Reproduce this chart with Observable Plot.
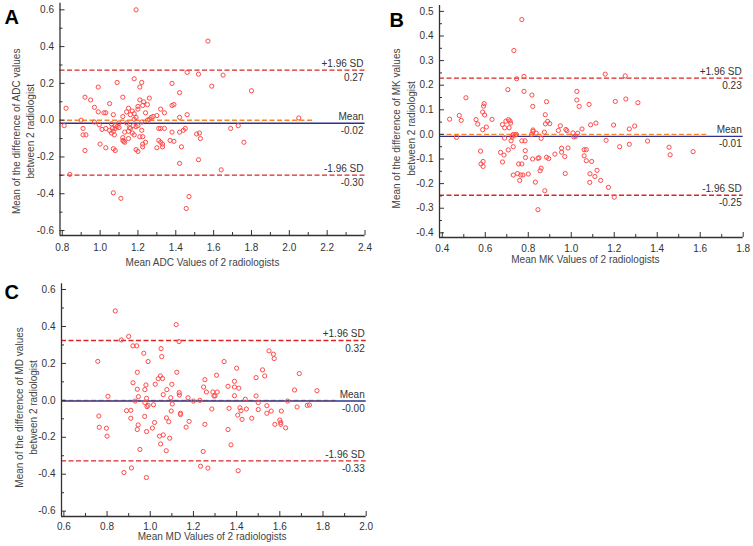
<!DOCTYPE html>
<html><head><meta charset="utf-8">
<script src="https://cdn.jsdelivr.net/npm/d3@7"></script>
<script src="https://cdn.jsdelivr.net/npm/@observablehq/plot@0.6"></script>
<style>
html,body{margin:0;padding:0;background:#fff;}
#wrap{position:relative;width:753px;height:546px;overflow:hidden;font-family:"Liberation Sans",Arial,sans-serif;}
.panel{position:absolute;}
</style></head><body><div id="wrap"></div>
<script>
// ---------- DATA ----------
// Panel A: [mean ADC of 2 radiologists, mean difference]
const adcPoints = [
[1.19,0.60],[1.57,0.43],[1.46,0.26],[1.52,0.25],[1.65,0.245],[1.18,0.225],[1.09,0.205],[1.22,0.205],[1.38,0.20],[1.59,0.185],
[0.99,0.18],[1.21,0.18],[1.80,0.16],[1.42,0.15],[0.92,0.125],[1.12,0.125],[1.26,0.12],[0.95,0.11],[1.21,0.11],[1.23,0.10],
[1.05,0.09],[1.39,0.085],[1.38,0.08],[0.97,0.07],[0.82,0.065],[1.20,0.075],[1.15,0.065],[1.25,0.085],[1.225,0.08],[1.32,0.06],
[1.03,0.04],[1.02,0.04],[1.14,0.045],[1.20,0.06],[1.24,0.04],[0.99,0.045],[1.34,0.04],[1.46,0.03],[1.07,0.03],[1.12,0.02],
[1.16,0.03],[1.18,0.035],[1.19,0.015],[1.28,0.02],[1.30,0.025],[1.27,0.015],[1.42,0.015],[2.05,0.012],[0.90,0.0],[1.18,0.005],
[1.26,0.005],[1.25,0.0],[1.17,0.05],
[0.81,-0.03],[0.97,-0.01],[1.06,-0.02],[1.10,-0.015],[1.08,-0.03],[1.14,-0.015],[1.22,-0.01],[0.91,-0.045],[0.91,-0.08],[0.925,-0.08],
[1.03,-0.045],[1.065,-0.045],[1.09,-0.035],[1.10,-0.04],[1.06,-0.07],[1.07,-0.06],[1.075,-0.08],[1.05,-0.055],[1.13,-0.065],[1.16,-0.045],
[1.175,-0.03],[1.17,-0.07],[1.18,-0.08],[1.20,-0.03],[1.22,-0.055],[1.225,-0.09],[1.31,-0.045],[1.34,-0.045],[1.38,-0.065],[1.42,-0.065],
[1.44,-0.055],[1.45,-0.045],[1.51,-0.075],[1.525,-0.07],[1.69,-0.045],[1.73,-0.03],[1.53,-0.10],[1.76,-0.12],[1.15,-0.10],[1.13,-0.12],
[1.125,-0.115],[1.00,-0.13],[1.03,-0.15],[1.07,-0.155],[1.08,-0.165],[0.92,-0.165],[1.19,-0.16],[1.20,-0.17],[1.225,-0.13],[1.24,-0.12],
[1.225,-0.145],[1.30,-0.15],[1.33,-0.13],[1.33,-0.145],[1.31,-0.11],[1.32,-0.12],[1.37,-0.11],[1.39,-0.115],[1.43,-0.145],[1.42,-0.235],
[1.52,-0.215],[1.64,-0.27],[0.84,-0.295],[1.07,-0.395],[1.11,-0.425],[1.47,-0.415],[1.455,-0.48],[1.15,-0.06],[1.12,-0.11],[1.12,-0.095],
[1.19,-0.035],[0.995,-0.025],[1.01,-0.05],[1.155,-0.04],[1.21,-0.09],[1.32,-0.045],[1.08,-0.045]
];
// Panel B: [mean MK of 2 radiologists, mean difference]
const mkPoints = [
[0.77,0.467],[0.733,0.341],[0.78,0.236],[0.746,0.226],[1.158,0.245],[1.251,0.238],[0.705,0.182],[0.78,0.175],[1.026,0.175],[0.51,0.149],
[0.817,0.16],[1.026,0.14],[1.254,0.144],[0.885,0.133],[1.205,0.134],[1.31,0.129],[0.595,0.125],[0.592,0.115],[0.821,0.114],[1.037,0.114],
[1.083,0.122],[0.588,0.091],[0.597,0.079],[0.879,0.08],[0.479,0.077],[0.434,0.062],[0.488,0.057],[0.557,0.06],[0.631,0.061],[0.708,0.06],
[0.715,0.055],[0.696,0.054],[0.565,0.042],[0.68,0.04],[0.718,0.046],[0.89,0.053],[0.9,0.044],[0.88,0.043],[1.115,0.046],[1.09,0.039],
[1.197,0.038],[1.295,0.034],[0.605,0.03],[0.69,0.027],[0.711,0.027],[0.588,0.019],[0.822,0.018],[0.822,0.012],[0.94,0.016],[0.949,0.035],
[0.975,0.02],[0.98,0.015],[1.05,0.022],[1.27,0.022],[0.875,0.009],[1.008,0.006],[1.03,0.005],[0.73,0.0],[0.74,-0.002],[0.745,0.0],
[0.725,-0.006],[0.837,0.005],[1.02,-0.008],[1.012,-0.01],[0.815,0.0],[0.69,-0.015],[0.466,-0.012],[0.77,-0.026],[0.785,-0.026],[0.72,-0.026],
[0.86,-0.016],[0.725,-0.012],[1.355,-0.027],[1.162,-0.024],[1.27,-0.04],[1.225,-0.05],[0.73,-0.05],[0.707,-0.063],[0.786,-0.066],[0.578,-0.068],
[0.671,-0.073],[0.687,-0.084],[0.985,-0.055],[0.955,-0.056],[0.955,-0.072],[1.07,-0.062],[1.06,-0.062],[0.924,-0.08],[0.97,-0.09],[1.06,-0.087],
[1.455,-0.052],[1.46,-0.083],[1.567,-0.07],[0.787,-0.094],[0.845,-0.097],[0.885,-0.093],[0.895,-0.098],[0.82,-0.1],[0.85,-0.095],[1.095,-0.11],
[1.07,-0.107],[0.58,-0.12],[0.59,-0.11],[0.59,-0.13],[0.68,-0.112],[0.755,-0.12],[0.77,-0.12],[0.86,-0.137],[0.855,-0.148],[1.12,-0.146],
[0.73,-0.165],[0.75,-0.159],[0.765,-0.165],[0.775,-0.165],[0.8,-0.161],[0.972,-0.159],[1.087,-0.16],[1.11,-0.171],[0.76,-0.187],[0.833,-0.194],
[1.086,-0.195],[1.137,-0.187],[1.173,-0.215],[0.877,-0.229],[1.2,-0.255],[0.845,-0.306]
];
// Panel C: [mean MD of 2 radiologists, mean difference]
const mdPoints = [
[0.838,0.484],[1.12,0.41],[0.9,0.346],[0.866,0.327],[1.133,0.318],[0.92,0.295],[0.937,0.295],[1.05,0.28],[1.55,0.268],[1.57,0.25],
[1.574,0.226],[0.97,0.255],[1.053,0.237],[0.757,0.211],[0.99,0.21],[1.342,0.21],[1.40,0.174],[1.52,0.165],[1.69,0.145],[0.94,0.152],
[1.123,0.152],[1.047,0.132],[1.307,0.136],[1.53,0.132],[1.49,0.123],[1.037,0.117],[1.057,0.118],[1.253,0.112],[0.92,0.095],[1.39,0.103],
[0.98,0.083],[1.023,0.087],[1.10,0.087],[1.36,0.076],[1.247,0.072],[1.39,0.072],[1.41,0.066],[0.94,0.06],[0.975,0.058],[1.077,0.058],
[1.668,0.056],[1.772,0.052],[1.26,0.045],[1.134,0.042],[1.29,0.045],[1.31,0.045],[1.06,0.031],[1.135,0.029],[1.39,0.025],[1.295,0.024],
[1.30,0.024],[1.49,0.024],[0.804,0.022],[0.945,0.02],[1.095,0.014],[1.175,0.014],[0.983,0.011],[0.93,-0.004],[1.20,-0.004],[1.23,0.0],
[1.44,0.006],[1.636,-0.004],[0.975,-0.012],[1.50,-0.012],[1.102,-0.02],[1.015,-0.024],[0.99,-0.027],[0.985,-0.034],[1.415,-0.04],[1.365,-0.043],
[1.445,-0.047],[1.42,-0.056],[0.89,-0.056],[0.91,-0.054],[1.68,-0.036],[1.727,-0.027],[1.737,-0.025],[1.285,-0.047],[1.54,-0.029],[1.50,-0.05],
[1.56,-0.058],[1.607,-0.058],[1.097,-0.058],[1.14,-0.07],[1.14,-0.077],[1.54,-0.07],[1.405,-0.08],[1.425,-0.103],[1.47,-0.097],[0.762,-0.085],
[0.974,-0.087],[0.91,-0.097],[1.075,-0.095],[1.60,-0.107],[1.604,-0.12],[1.577,-0.13],[1.605,-0.13],[1.627,-0.149],[1.02,-0.12],[1.086,-0.116],
[1.18,-0.114],[1.253,-0.13],[1.166,-0.145],[0.944,-0.133],[0.764,-0.146],[0.797,-0.151],[0.94,-0.158],[1.01,-0.15],[0.983,-0.169],[1.36,-0.158],
[1.06,-0.187],[1.043,-0.194],[0.80,-0.194],[1.09,-0.205],[1.048,-0.236],[1.374,-0.241],[0.952,-0.266],[1.074,-0.273],[1.245,-0.277],[1.233,-0.357],
[1.267,-0.367],[0.913,-0.366],[0.878,-0.391],[1.407,-0.381],[0.982,-0.418]
];
// Limits of agreement: [+1.96 SD, mean, -1.96 SD]
const adcStats = [0.272, -0.017, -0.299];
const mkStats  = [0.229, -0.008, -0.247];
const mdStats  = [0.324, -0.004, -0.328];
const statNames = ["+1.96 SD", "Mean", "-1.96 SD"];
// End of the line of equality (y = 0)
const adcEqEnd = 2.13, mkEqEnd = 1.63, mdEqEnd = 1.86;
// Tick labels
const adcXTicks = [0.8,1.0,1.2,1.4,1.6,1.8,2.0,2.2,2.4];
const adcYTicks = [-0.6,-0.4,-0.2,0.0,0.2,0.4,0.6];
const mkXTicks  = [0.4,0.6,0.8,1.0,1.2,1.4,1.6,1.8];
const mkYTicks  = [-0.4,-0.3,-0.2,-0.1,0.0,0.1,0.2,0.3,0.4,0.5];
const mdXTicks  = [0.6,0.8,1.0,1.2,1.4,1.6,1.8,2.0];
const mdYTicks  = [-0.6,-0.4,-0.2,0.0,0.2,0.4,0.6];
// Titles
const panelLetters = ["A","B","C"];
const xTitles = ["Mean ADC Values of 2 radiologists","Mean MK Values of 2 radiologists","Mean MD Values of 2 radiologists"];
const yTitles = ["Mean of the difference of ADC values\nbetween 2 radiologist","Mean of the difference of MK values\nbetween 2 radiologist","Mean of the difference of MD values\nbetween 2 radiologist"];

// ---------- STYLE ----------
const RED = "#dc2626", ORANGE = "#f7871f", BLUE = "#2e3192", PT = "#ff4a4a", AX = "#333";
const FONT = "'Liberation Sans', Arial, sans-serif";

function mid(ticks){ const out=[]; for(let i=0;i<ticks.length-1;i++) out.push((ticks[i]+ticks[i+1])/2); return out; }

function panel(c){
  const [up, mean, lo] = c.stats;
  const labels = c.stats.map((v,i)=>({v, name: statNames[i], val: v.toFixed(2)}));
  return Plot.plot({
    width: c.width, height: c.height,
    marginLeft: c.ml, marginRight: c.mr, marginTop: c.mt, marginBottom: c.mb,
    style: `font-family:${FONT};font-size:10px;background:white;color:${AX};overflow:visible;`,
    x: {domain: c.xDomain}, y: {domain: c.yDomain},
    marks: [
      Plot.ruleY([0], {x1: c.xDomain[0], x2: c.eqEnd, stroke: ORANGE, strokeWidth: 1.4, strokeDasharray: "5,2.5"}),
      Plot.ruleY([up, lo], {stroke: RED, strokeWidth: 1.4, strokeDasharray: "5,2.5"}),
      Plot.ruleY([mean], {stroke: BLUE, strokeWidth: 1.4}),
      Plot.dot(c.points, {x: d=>d[0], y: d=>d[1], r: 2.1, stroke: PT, strokeWidth: 1, fill: "none"}),
      Plot.ruleX([c.xDomain[0]], {stroke: AX, strokeWidth: 1.3}),
      Plot.ruleY([c.yDomain[0]], {stroke: AX, strokeWidth: 1.3}),
      Plot.axisY({ticks: c.yTicks, tickSize: -5, tickPadding: 11, tickFormat: d=>d.toFixed(1), label: null, color: AX}),
      Plot.axisY({ticks: c.yMinor, tickSize: -3, tickFormat: ()=>"", label: null, color: AX}),
      Plot.axisX({ticks: c.xTicks, tickSize: -5, tickPadding: c.xPad, tickFormat: d=>d.toFixed(1), label: null, color: AX}),
      Plot.axisX({ticks: mid(c.xTicks), tickSize: -3, tickFormat: ()=>"", label: null, color: AX}),
      Plot.text(labels, {x: c.xDomain[1], y: "v", text: "name", textAnchor: "end", lineAnchor: "bottom", dy: -3, dx: -1.5, fill: "#333"}),
      Plot.text(labels, {x: c.xDomain[1], y: "v", text: "val", textAnchor: "end", lineAnchor: "top", dy: 4, dx: -1.5, fill: "#333"}),
      Plot.text([c.xTitle], {frameAnchor: "bottom", textAnchor: "middle", dx: c.xtdx, dy: c.xtdy, lineAnchor: "middle", fill: "#444"}),
      Plot.text([c.yTitle], {frameAnchor: "left", rotate: -90, textAnchor: "middle", dx: c.ytdx, dy: c.ytdy, lineAnchor: "middle", lineHeight: 1.45, fill: "#444"}),
      Plot.text([c.letter], {frameAnchor: "top-left", textAnchor: "start", lineAnchor: "top", dx: c.ldx, dy: c.ldy, fontSize: 20, fontWeight: "bold", fill: "#000"})
    ]
  });
}

const configs = [
  {left: 0, top: 0, width: 376, height: 270, ml: 59.5, mr: 11.5, mt: 2.7, mb: 35,
   xDomain: [0.788, 2.4], yDomain: [-0.627, 0.636], points: adcPoints, stats: adcStats, eqEnd: adcEqEnd,
   xTicks: adcXTicks, yTicks: adcYTicks, yMinor: mid(adcYTicks), xPad: 13.7,
   xTitle: xTitles[0], yTitle: yTitles[0], letter: panelLetters[0],
   xtdx: -10, xtdy: 27, ytdx: -37.5, ytdy: 12, ldx: -55.5, ldy: 6.3},
  {left: 376, top: 0, width: 377, height: 270, ml: 63, mr: 10.3, mt: 5, mb: 33,
   xDomain: [0.387, 1.8], yDomain: [-0.419, 0.524], points: mkPoints, stats: mkStats, eqEnd: mkEqEnd,
   xTicks: mkXTicks, yTicks: mkYTicks, yMinor: mid(mkYTicks), xPad: 12.4,
   xTitle: xTitles[1], yTitle: yTitles[1], letter: panelLetters[1],
   xtdx: -6, xtdy: 22, ytdx: -36.5, ytdy: 7, ldx: -50, ldy: 7},
  {left: 0, top: 270, width: 376, height: 276, ml: 61, mr: 10.3, mt: 13.3, mb: 30,
   xDomain: [0.589, 2.0], yDomain: [-0.629, 0.631], points: mdPoints, stats: mdStats, eqEnd: mdEqEnd,
   xTicks: mdXTicks, yTicks: mdYTicks, yMinor: mid(mdYTicks), xPad: 11.4,
   xTitle: xTitles[2], yTitle: yTitles[2], letter: panelLetters[2],
   xtdx: -1.7, xtdy: 20.7, ytdx: -36, ytdy: 7.3, ldx: -57, ldy: 0.7}
];

const wrap = document.getElementById("wrap");
for (const c of configs) {
  const div = document.createElement("div");
  div.className = "panel";
  div.style.left = c.left + "px";
  div.style.top = c.top + "px";
  div.appendChild(panel(c));
  wrap.appendChild(div);
}
</script></body></html>
